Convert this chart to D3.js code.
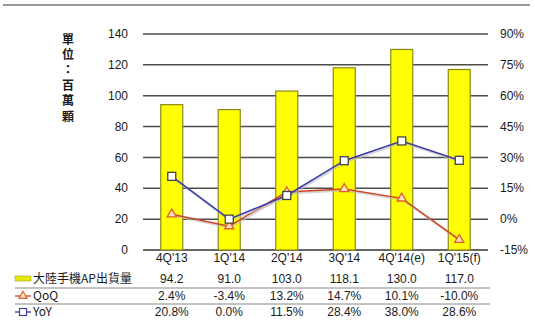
<!DOCTYPE html>
<html>
<head>
<meta charset="utf-8">
<script src="https://cdn.jsdelivr.net/npm/d3@7"></script>
<style>
  html, body { margin: 0; padding: 0; background: #fff; }
  svg { display: block; font-family: "Liberation Sans", Arial, sans-serif; }
</style>
</head>
<body>
<svg id="chart" width="535" height="326"></svg>
<script>
// Quarterly shipments of handset application processors in mainland China
const quarters = ["4Q'13", "1Q'14", "2Q'14", "3Q'14", "4Q'14(e)", "1Q'15(f)"];
const shipments = [94.2, 91.0, 103.0, 118.1, 130.0, 117.0];   // millions of units
const qoq = [2.4, -3.4, 13.2, 14.7, 10.1, -10.0];              // %
const yoy = [20.8, 0.0, 11.5, 28.4, 38.0, 28.6];               // %
const leftTicks = [0, 20, 40, 60, 80, 100, 120, 140];
const rightTicks = [-15, 0, 15, 30, 45, 60, 75, 90];
const seriesNames = ["大陸手機AP出貨量", "QoQ", "YoY"];
const unitLabel = "單位：百萬顆";

const svg = d3.select("#chart");
const plot = { left: 143, right: 488, top: 34, bottom: 250 };

const x = d3.scaleBand().domain(quarters).range([plot.left, plot.right]);
const yL = d3.scaleLinear().domain([0, 140]).range([plot.bottom, plot.top]);
const yR = d3.scaleLinear().domain([-15, 90]).range([plot.bottom, plot.top]);

const textColor = "#1a1a1a";

// top rule
svg.append("line").attr("x1", 3).attr("x2", 530).attr("y1", 5).attr("y2", 5)
  .attr("stroke", "#777").attr("stroke-width", 1.5);

// horizontal gridlines
svg.append("g").selectAll("line").data(leftTicks).join("line")
  .attr("x1", plot.left).attr("x2", plot.right)
  .attr("y1", d => yL(d)).attr("y2", d => yL(d))
  .attr("stroke", d => d === 0 ? "#333" : "#4d4d4d")
  .attr("stroke-width", 1.5);

// left axis labels
svg.append("g").selectAll("text").data(leftTicks).join("text")
  .attr("x", 128).attr("y", d => yL(d)).attr("dy", "0.35em")
  .attr("text-anchor", "end").attr("font-size", 12).attr("fill", textColor)
  .text(d => d);

// right axis labels
svg.append("g").selectAll("text").data(rightTicks).join("text")
  .attr("x", 500).attr("y", d => yR(d)).attr("dy", "0.35em")
  .attr("text-anchor", "start").attr("font-size", 12).attr("fill", textColor)
  .text(d => d + "%");

// vertical unit label, set top-to-bottom
svg.append("text")
  .attr("x", 68).attr("y", 33)
  .style("writing-mode", "vertical-rl")
  .style("letter-spacing", "3.4px")
  .attr("font-size", 12).attr("font-weight", "bold")
  .attr("font-family", "'Noto Sans CJK TC', sans-serif").attr("fill", textColor)
  .text(unitLabel);

// bars
const barW = 22;
svg.append("g").selectAll("rect").data(shipments).join("rect")
  .attr("x", (d, i) => x(quarters[i]) + x.bandwidth() / 2 - barW / 2)
  .attr("y", d => yL(d))
  .attr("width", barW)
  .attr("height", d => yL(0) - yL(d))
  .attr("fill", "#ffff00")
  .attr("stroke", "#8a8a18").attr("stroke-width", 1.2);

// lines on the right axis
const cx = i => x(quarters[i]) + x.bandwidth() / 2;
const lineGen = d3.line().x((d, i) => cx(i)).y(d => yR(d));

function drawSeries(values, color, shape) {
  // soft shadow
  svg.append("path").datum(values).attr("d", lineGen)
    .attr("fill", "none").attr("stroke", "#bbb").attr("stroke-width", 2)
    .attr("transform", "translate(1,1.5)").attr("opacity", 0.6);
  svg.append("path").datum(values).attr("d", lineGen)
    .attr("fill", "none").attr("stroke", color).attr("stroke-width", 1.5);
  const g = svg.append("g");
  if (shape === "square") {
    g.selectAll("rect").data(values).join("rect")
      .attr("x", (d, i) => cx(i) - 4).attr("y", d => yR(d) - 4)
      .attr("width", 8).attr("height", 8)
      .attr("fill", "#fff").attr("stroke", "#444").attr("stroke-width", 1.3);
  } else {
    g.selectAll("path").data(values).join("path")
      .attr("d", d3.symbol().type(d3.symbolTriangle).size(36))
      .attr("transform", (d, i) => `translate(${cx(i)},${yR(d)})`)
      .attr("fill", "#fde0c0").attr("stroke", "#e0602a").attr("stroke-width", 1.3);
  }
}
drawSeries(qoq, "#cc4422", "triangle");
drawSeries(yoy, "#3a3aa8", "square");

// category labels
svg.append("g").selectAll("text").data(quarters).join("text")
  .attr("x", (d, i) => cx(i)).attr("y", 258).attr("dy", "0.35em")
  .attr("text-anchor", "middle").attr("font-size", 12).attr("fill", textColor)
  .text(d => d);

// data table
const rows = [
  { y: 279, vals: shipments.map(v => v.toFixed(1)) },
  { y: 296, vals: qoq.map(v => v.toFixed(1) + "%") },
  { y: 312, vals: yoy.map(v => v.toFixed(1) + "%") }
];
rows.forEach(r => {
  svg.append("g").selectAll("text").data(r.vals).join("text")
    .attr("x", (d, i) => cx(i)).attr("y", r.y).attr("dy", "0.35em")
    .attr("text-anchor", "middle").attr("font-size", 12).attr("fill", textColor)
    .text(d => d);
});
[288, 304].forEach(yy => {
  svg.append("line").attr("x1", 15).attr("x2", 490).attr("y1", yy).attr("y2", yy)
    .attr("stroke", "#888").attr("stroke-width", 1);
});

// legend keys
svg.append("rect").attr("x", 15).attr("y", 276).attr("width", 16).attr("height", 5)
  .attr("fill", "#e8e800").attr("stroke", "#a0a030").attr("stroke-width", 0.6);
svg.append("line").attr("x1", 15).attr("x2", 31).attr("y1", 296).attr("y2", 296)
  .attr("stroke", "#cc4422").attr("stroke-width", 1.3);
svg.append("path").attr("d", d3.symbol().type(d3.symbolTriangle).size(30))
  .attr("transform", "translate(23,296)")
  .attr("fill", "#fde0c0").attr("stroke", "#e0602a").attr("stroke-width", 1.1);
svg.append("line").attr("x1", 15).attr("x2", 31).attr("y1", 312).attr("y2", 312)
  .attr("stroke", "#3a3aa8").attr("stroke-width", 1.3);
svg.append("rect").attr("x", 19.5).attr("y", 308.5).attr("width", 7).attr("height", 7)
  .attr("fill", "#fff").attr("stroke", "#3a3aa8").attr("stroke-width", 1.1);

svg.append("g").selectAll("text").data(seriesNames).join("text")
  .attr("x", 33).attr("y", (d, i) => [279, 296, 312][i]).attr("dy", "0.35em")
  .attr("font-size", 12).attr("fill", textColor)
  .attr("font-family", "'Noto Sans CJK TC', 'Liberation Sans', sans-serif")
  .text(d => d);
</script>
</body>
</html>
